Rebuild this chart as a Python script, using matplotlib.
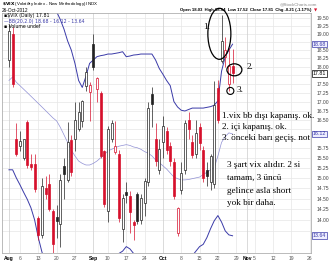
import numpy as np
import matplotlib
matplotlib.use('Agg')
import matplotlib.pyplot as plt
import matplotlib.transforms as mtransforms
from matplotlib.patches import Ellipse

# daily $VIX candles, Aug 1 .. Oct 26 2012 (x = trading day index)
opens = [18.20, 19.00, 16.00, 15.80, 15.50, 16.45, 15.35, 15.35, 14.05, 13.65,
         14.75, 14.85, 14.20, 14.06, 13.90, 15.30, 14.95, 15.95, 16.00, 16.25,
         16.47, 17.44, 17.27, 18.69, 17.36, 17.25, 15.68, 14.21, 16.00, 15.65,
         15.60, 13.80, 14.65, 14.55, 13.95, 14.60, 14.00, 14.40, 14.90, 17.20,
         16.00, 15.20, 15.90, 16.20, 15.80, 15.40, 13.70, 14.70, 15.20, 16.50,
         15.90, 15.60, 16.30, 15.70, 15.20, 14.90, 14.85, 17.39, 18.17, 18.30,
         17.50, 18.03]
highs = [19.30, 19.20, 16.40, 16.20, 16.00, 16.50, 15.60, 15.60, 14.10, 15.00,
         15.05, 15.10, 14.25, 14.35, 15.10, 15.50, 16.45, 16.10, 17.00, 17.00,
         17.05, 18.00, 17.55, 19.00, 17.70, 17.30, 15.70, 16.32, 16.50, 16.47,
         15.70, 14.60, 14.90, 14.68, 14.00, 14.65, 14.60, 15.00, 17.00, 17.40,
         16.40, 16.00, 16.60, 16.30, 15.90, 15.50, 14.30, 15.40, 16.50, 16.70,
         16.10, 16.50, 16.40, 15.80, 15.40, 15.60, 17.58, 17.60, 19.60, 18.90,
         18.55, 18.54]
lows = [18.00, 17.40, 15.55, 15.68, 15.45, 15.25, 15.20, 14.65, 13.55, 13.60,
        14.50, 14.20, 13.25, 13.60, 13.40, 14.50, 14.90, 15.05, 15.68, 16.20,
        16.30, 17.30, 16.47, 17.90, 17.00, 15.50, 14.30, 13.95, 15.90, 15.60,
        13.95, 13.50, 14.40, 13.70, 13.55, 13.90, 13.90, 14.10, 14.80, 16.30,
        15.30, 15.10, 15.50, 15.60, 15.30, 14.50, 13.64, 14.60, 15.10, 16.00,
        15.50, 15.50, 15.70, 14.90, 14.80, 14.70, 14.75, 16.40, 18.10, 18.00,
        17.30, 17.52]
closes = [19.10, 17.50, 15.60, 15.94, 15.99, 15.32, 15.28, 14.74, 13.65, 14.80,
          14.60, 14.25, 13.45, 13.98, 14.95, 15.10, 15.90, 15.15, 16.50, 16.72,
          17.02, 17.84, 17.47, 18.00, 17.66, 15.55, 14.38, 16.25, 16.41, 15.80,
          14.05, 14.51, 14.59, 14.18, 13.88, 13.98, 14.51, 14.92, 16.81, 16.93,
          15.43, 15.73, 16.32, 15.71, 15.43, 14.55, 14.28, 15.12, 16.41, 16.24,
          15.58, 16.14, 15.89, 14.99, 15.05, 15.54, 16.90, 16.50, 18.78, 18.50,
          18.02, 17.81]

# Bollinger bands (20, 2.0)
bb_upper = [22.0, 21.9, 21.8, 21.6, 21.4, 21.2, 21.0, 20.8, 20.6, 20.4,
            20.2, 20.0, 19.85, 19.70, 19.45, 19.15, 18.78, 18.50, 18.10, 17.60,
            17.40, 17.72, 18.10, 18.20, 18.30, 18.33, 18.35, 18.38, 18.38, 18.40,
            18.42, 18.45, 18.30, 18.32, 18.35, 18.36, 18.38, 18.38, 18.38, 18.38,
            18.20, 17.95, 17.78, 17.60, 17.45, 17.00, 16.85, 16.76, 16.74, 16.78,
            16.82, 16.82, 16.82, 16.82, 16.84, 16.86, 16.90, 17.02, 17.87, 18.30,
            18.50, 18.68]
bb_middle = [17.60, 17.70, 17.55, 17.45, 17.35, 17.25, 17.15, 17.05, 16.95, 16.85,
             16.75, 16.65, 16.55, 16.47, 16.30, 16.10, 15.90, 15.70, 15.55, 15.42,
             15.36, 15.32, 15.32, 15.36, 15.42, 15.50, 15.58, 15.68, 15.72, 15.76,
             15.80, 15.82, 15.84, 15.82, 15.78, 15.76, 15.72, 15.66, 15.62, 15.55,
             15.45, 15.38, 15.30, 15.22, 15.12, 15.02, 14.98, 14.95, 14.95, 14.96,
             14.98, 15.00, 15.02, 15.08, 15.14, 15.20, 15.25, 15.55, 15.90, 16.05,
             16.15, 16.12]
bb_lower = [15.20, 15.20, 15.00, 14.83, 14.65, 14.48, 14.28, 14.00, 13.60, 13.28,
            13.05, 12.90, 12.70, 12.60, 12.70, 12.80, 12.90, 13.00, 13.05, 13.10,
            13.10, 13.10, 13.00, 12.90, 12.80, 12.90, 13.00, 13.10, 13.15, 13.20,
            13.25, 13.30, 13.40, 13.35, 13.25, 13.15, 13.05, 12.95, 12.85, 12.75,
            12.70, 12.80, 12.85, 12.85, 12.80, 13.00, 13.05, 13.10, 13.15, 13.18,
            13.20, 13.30, 13.40, 13.45, 13.60, 13.80, 13.98, 14.10, 13.95, 13.75,
            13.66, 13.64]

tick_pos = [0, 3, 8, 13, 18, 23, 27, 32, 37, 42, 47, 52, 57, 62, 65, 67, 72, 77, 82]
tick_labels = ['Aug', '6', '13', '20', '27', 'Sep', '10', '17', '24', 'Oct',
               '8', '15', '22', '29', 'Nov', '5', '12', '19', '26']
month_labels = ['Aug', 'Sep', 'Oct', 'Nov']
y_ticks = [13.75, 14.00, 14.25, 14.50, 14.75, 15.00, 15.25, 15.50, 15.75, 16.00,
           16.25, 16.50, 16.75, 17.00, 17.25, 17.50, 17.75, 18.00, 18.25, 18.50,
           18.75, 19.00, 19.25, 19.50]

RED = '#d6102c'
BLUE = '#3a3aa8'
SANS = ['Liberation Sans', 'DejaVu Sans']
SERIF = ['Liberation Serif', 'DejaVu Serif']

W, H = 333, 262
fig = plt.figure(figsize=(W / 100, H / 100), dpi=100)
L, R, T, B = 2, 311, 13, 253
ax = fig.add_axes([L / W, 1 - B / H, (R - L) / W, (B - T) / H])
ax.set_yscale('log')
ax.set_xlim(-1.9, 82.4)
ax.set_ylim(13.26, 19.66)

# grid
for y in y_ticks:
    ax.axhline(y, color='#e6e6e6', lw=0.5, zorder=0)
for p, lab in zip(tick_pos, tick_labels):
    ax.axvline(p, color='#cccccc' if lab in month_labels else '#e6e6e6', lw=0.5, zorder=0)

# bands
x = np.arange(len(bb_upper))
ax.plot(x, bb_upper, color=BLUE, lw=0.7, zorder=2)
ax.plot(x, bb_lower, color=BLUE, lw=0.7, zorder=2)
ax.plot(x, bb_middle, color='#9090d4', lw=0.5, zorder=2)

# candles
prev = opens[0]
for i in range(len(closes)):
    o, h, l, c = opens[i], highs[i], lows[i], closes[i]
    col = '#222222' if c >= prev else RED
    hollow = c > o
    ax.vlines(i, l, h, color=col, lw=0.5, zorder=3)
    lo, hi = min(o, c), max(o, c)
    ax.bar(i, hi - lo, bottom=lo, width=0.55, color='white' if hollow else col,
           edgecolor=col, lw=0.5, zorder=4)
    prev = c

# axes look
for s in ax.spines.values():
    s.set_color('#b0b0b0')
    s.set_linewidth(0.6)

# value boxes on the right axis; labels hidden behind them are left out
box_vals = [bb_upper[-1], bb_middle[-1], bb_lower[-1], closes[-1]]
ylo, yhi = ax.get_ylim()
def px(v):
    return (np.log(v) - np.log(ylo)) / (np.log(yhi) - np.log(ylo)) * (B - T)
shown = [v for v in y_ticks if min(abs(px(v) - px(b)) for b in box_vals) > 5.5]

ax.yaxis.tick_right()
ax.yaxis.set_major_locator(matplotlib.ticker.FixedLocator(shown))
ax.yaxis.set_minor_locator(matplotlib.ticker.NullLocator())
ax.set_yticklabels(['%.2f' % v for v in shown])
ax.tick_params(axis='y', length=0, pad=4, labelsize=3.6, labelcolor='#444444')
ax.set_xticks(tick_pos)
ax.set_xticklabels(tick_labels)
ax.tick_params(axis='x', length=0, pad=2, labelsize=3.6, labelcolor='#555555')
for t in ax.get_xticklabels():
    t.set_fontfamily(SANS)
    if t.get_text() in month_labels:
        t.set_fontweight('bold')
        t.set_color('black')
for t in ax.get_yticklabels():
    t.set_fontfamily(SANS)

tr = mtransforms.blended_transform_factory(ax.transAxes, ax.transData)
for v, ec, fc in [(bb_upper[-1], BLUE, '#eeeeff'), (bb_middle[-1], BLUE, '#eeeeff'),
                  (bb_lower[-1], BLUE, '#eeeeff'), (closes[-1], 'black', 'white')]:
    ax.text(1.006, v, '%.2f' % v, transform=tr, fontsize=3.8, family=SANS,
            color=ec, va='center', ha='left',
            bbox=dict(boxstyle='square,pad=0.15', fc=fc, ec=ec, lw=0.5))

# header
fig.text(2 / W, 1 - 4 / H, r'$\bf{\$VIX}$ (Volatility Index - New Methodology) INDX',
         fontsize=3.2, family=SANS, va='center')
fig.text(2 / W, 1 - 10 / H, '26-Oct-2012', fontsize=3.4, family=SANS, va='center')
fig.text(317 / W, 1 - 4 / H, '@StockCharts.com', fontsize=3.2, family=SANS,
         color='#888888', ha='right', va='center')
chg = closes[-1] - closes[-2]
fig.text(311 / W, 1 - 10 / H,
         'Open %.2f  High %.2f  Low %.2f  Close %.2f  Chg %.2f (%.2f%%)'
         % (opens[-1], highs[-1], lows[-1], closes[-1], chg, chg / closes[-2] * 100),
         fontsize=3.1, family=SANS, fontweight='bold', ha='right', va='center')
fig.text(317 / W, 1 - 10 / H, '\u25bc', fontsize=3, color=RED, ha='right', va='center',
         family=['DejaVu Sans'])

# legend
fig.text(4 / W, 1 - 16 / H, '\u25aa$VIX (Daily) %.2f' % closes[-1], fontsize=3.3,
         family=['DejaVu Sans'], va='center')
fig.text(4 / W, 1 - 21.5 / H, '\u2014BB(20,2.0) %.2f - %.2f - %.2f'
         % (bb_upper[-1], bb_middle[-1], bb_lower[-1]),
         fontsize=3.3, family=['DejaVu Sans'], color=BLUE, va='center')
fig.text(4 / W, 1 - 27 / H, '\u25aa Volume undef', fontsize=3.3,
         family=['DejaVu Sans'], va='center')

# hand-drawn notes
def to_ax(i, p):
    x0, x1 = ax.get_xlim()
    return (i - x0) / (x1 - x0), px(p) / (B - T)

pw, ph = R - L, B - T
cx, cy = to_ax(57.4, 19.0)
ax.add_patch(Ellipse((cx, cy), 23 / pw, 51 / ph, transform=ax.transAxes,
                     fill=False, ec='black', lw=0.9, zorder=6, clip_on=False))
cx, cy = to_ax(61.5, closes[-1] + 0.1)
ax.add_patch(Ellipse((cx, cy), 15 / pw, 12 / ph, transform=ax.transAxes,
                     fill=False, ec='black', lw=0.9, zorder=6))
cx, cy = to_ax(60.4, lows[-2])
ax.add_patch(Ellipse((cx, cy), 7 / pw, 7 / ph, transform=ax.transAxes,
                     fill=False, ec='black', lw=0.8, zorder=6))

note = dict(family=SERIF, fontsize=6.6, color='black', va='center', ha='left')
fig.text(203 / W, 1 - 27 / H, '1.', **note)
fig.text(247 / W, 1 - 67 / H, '2.', **note)
fig.text(237 / W, 1 - 90 / H, '3.', **note)
lines1 = ['1.vix bb dışı kapanış. ok.', '2. içi kapanış. ok.', '3. önceki barı geçiş. not']
for k, s in enumerate(lines1):
    fig.text(222 / W, 1 - (116 + 11 * k) / H, s, **note)
lines2 = ['3 şart vix alıdır. 2 si', 'tamam, 3 üncü', 'gelince asla short', 'yok bir daha.']
for k, s in enumerate(lines2):
    fig.text(227 / W, 1 - (165 + 12.8 * k) / H, s, **note)

fig.savefig('out.png', dpi=100)
